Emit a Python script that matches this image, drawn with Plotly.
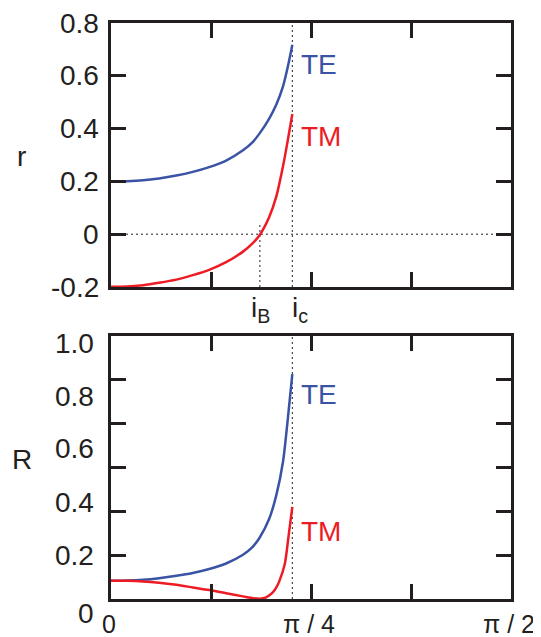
import plotly.graph_objects as go

# ---------------- data (angles in degrees, axis spans 0 .. 90 = pi/2) ----------------
te_r_x = [0, 3.6, 7.2, 10.8, 14.7, 18.4, 22.1, 25.9, 29.7, 31.7, 33.4, 35.6, 37.2, 38.7, 39.8, 40.8]
te_r_y = [0.200, 0.201, 0.204, 0.211, 0.222, 0.236, 0.254, 0.279, 0.318, 0.346, 0.381, 0.438, 0.491, 0.560, 0.636, 0.718]

tm_r_x = [0, 3.6, 7.2, 10.8, 14.7, 18.4, 22.1, 25.9, 29.7, 31.9, 33.5, 35.6, 37.2, 38.7, 39.8, 40.8]
tm_r_y = [-0.199, -0.198, -0.193, -0.184, -0.172, -0.155, -0.135, -0.106, -0.066, -0.034, -0.002, 0.065, 0.143, 0.257, 0.358, 0.455]

te_R_x = [0, 3.6, 7.2, 10.8, 14.7, 18.4, 22.1, 25.9, 29.7, 31.7, 33.4, 35.6, 37.2, 38.7, 39.8, 40.8]
te_R_y = [0.069, 0.070, 0.073, 0.079, 0.088, 0.099, 0.114, 0.135, 0.168, 0.195, 0.232, 0.305, 0.395, 0.522, 0.688, 0.855]

tm_R_x = [0, 3.6, 7.2, 10.8, 14.7, 18.4, 22.1, 25.9, 29.7, 32.0, 33.5, 34.9, 36.4, 37.2, 37.9, 39.1, 40.0, 40.8]
tm_R_y = [0.069, 0.069, 0.067, 0.062, 0.054, 0.044, 0.034, 0.022, 0.010, 0.003, 0.001, 0.006, 0.025, 0.044, 0.069, 0.133, 0.246, 0.350]

i_B = 33.5   # Brewster angle
i_c = 40.8   # critical angle

x_tickvals = [0, 22.5, 45, 67.5, 90]
x_label_vals = [0, 45, 90]
x_label_text = ["0", "π / 4", "π / 2"]
r_tickvals = [-0.2, 0, 0.2, 0.4, 0.6, 0.8]
r_ticktext = ["-0.2", "0", "0.2", "0.4", "0.6", "0.8"]
R_tick_marks = [k / 6 for k in range(7)]
R_ticktext = ["0", "0.2", "0.4", "0.6", "0.8", "1.0"]

# ---------------- style / layout ----------------
BLUE = "#3a53a4"
RED = "#ed1c24"
INK = "#231f20"
FONT = "Liberation Sans, Arial, sans-serif"
FS = 28
FS_X = 25
OFF = 8                      # page body margin of the html page
W, H = 541 - OFF, 637 - OFF
# frame in page pixels: x 111..511, y 23..599
ML, MT = 111 - OFF, 23 - OFF
MR = W - (511 - OFF)
MB = H - (599 - OFF)
PW, PH = W - ML - MR, H - MT - MB


def px_x(px):
    """page pixel x -> paper x"""
    return (px - OFF - ML) / PW


def px_y(py):
    """page pixel y -> paper y"""
    return (H - MB - (py - OFF)) / PH


top_dom = [px_y(287), 1.0]
bot_dom = [0.0, px_y(336)]

fig = go.Figure()
line_kw = dict(mode="lines", line_shape="spline", hoverinfo="skip", showlegend=False)
fig.add_trace(go.Scatter(x=te_r_x, y=te_r_y, line=dict(color=BLUE, width=2.5, smoothing=0.8), xaxis="x", yaxis="y", **line_kw))
fig.add_trace(go.Scatter(x=tm_r_x, y=tm_r_y, line=dict(color=RED, width=2.5, smoothing=0.8), xaxis="x", yaxis="y", **line_kw))
fig.add_trace(go.Scatter(x=te_R_x, y=te_R_y, line=dict(color=BLUE, width=2.5, smoothing=0.8), xaxis="x2", yaxis="y2", **line_kw))
fig.add_trace(go.Scatter(x=tm_R_x, y=tm_R_y, line=dict(color=RED, width=2.5, smoothing=0.8), xaxis="x2", yaxis="y2", **line_kw))

axis_common = dict(
    showline=True, linecolor=INK, linewidth=3, mirror="ticks",
    ticks="inside", ticklen=15, tickwidth=3, tickcolor=INK,
    showgrid=False, zeroline=False, fixedrange=True, automargin=False,
    showticklabels=False,
)

dot = dict(color=INK, width=1, dash="2px,3px")
shapes = [
    dict(type="line", xref="x", yref="y", x0=0, x1=90, y0=0, y1=0, line=dot, layer="below"),
    dict(type="line", xref="x", yref="y", x0=i_B, x1=i_B, y0=-0.2, y1=0.045, line=dot, layer="below"),
    dict(type="line", xref="x", yref="y", x0=i_c, x1=i_c, y0=-0.2, y1=0.8, line=dot, layer="below"),
    dict(type="line", xref="x2", yref="y2", x0=i_c, x1=i_c, y0=0, y1=1, line=dot, layer="below"),
]

txt_font = dict(family=FONT, size=FS, color=INK)
ann = dict(showarrow=False, xanchor="center", yanchor="middle")
annotations = [
    dict(ann, text="r", x=px_x(21), y=px_y(156), xref="paper", yref="paper", font=txt_font),
    dict(ann, text="R", x=px_x(22), y=px_y(459), xref="paper", yref="paper", font=txt_font),
    dict(ann, text="TE", x=42.9, y=0.643, xref="x", yref="y", xanchor="left", xshift=-3, font=dict(txt_font, color=BLUE)),
    dict(ann, text="TM", x=42.9, y=0.371, xref="x", yref="y", xanchor="left", xshift=-3, font=dict(txt_font, color=RED)),
    dict(ann, text="TE", x=42.9, y=0.777, xref="x2", yref="y2", xanchor="left", xshift=-3, font=dict(txt_font, color=BLUE)),
    dict(ann, text="TM", x=42.9, y=0.256, xref="x2", yref="y2", xanchor="left", xshift=-3, font=dict(txt_font, color=RED)),
    dict(ann, text="i<sub>B</sub>", x=i_B, y=px_y(309), xref="x", yref="paper", xshift=1, font=txt_font),
    dict(ann, text="i<sub>c</sub>", x=i_c, y=px_y(309), xref="x", yref="paper", xshift=8, font=txt_font),
]
# r axis tick labels (at their tick values)
for txt, v in zip(r_ticktext, r_tickvals):
    annotations.append(dict(ann, text=txt, x=px_x(101), y=v, xref="paper", yref="y", xanchor="right", font=txt_font))
# R axis tick labels (placed as in the original figure, offset from the tick marks)
R_label_py = [613, 555, 502, 448, 396, 343]
for txt, py in zip(R_ticktext, R_label_py):
    annotations.append(dict(ann, text=txt, x=px_x(96), y=px_y(py), xref="paper", yref="paper", xanchor="right", font=txt_font))
# angle labels
for txt, xv in zip(x_label_text, x_label_vals):
    annotations.append(dict(ann, text=txt, x=xv, y=px_y(624), xref="x2", yref="paper", xshift=-2,
                            font=dict(txt_font, size=FS_X)))

fig.update_layout(
    width=W, height=H,
    margin=dict(l=ML, r=MR, t=MT, b=MB),
    paper_bgcolor="white", plot_bgcolor="white",
    xaxis=dict(axis_common, domain=[0, 1], range=[0, 90], anchor="y", tickvals=x_tickvals),
    yaxis=dict(axis_common, domain=top_dom, range=[-0.2, 0.8], anchor="x", tickvals=r_tickvals),
    xaxis2=dict(axis_common, domain=[0, 1], range=[0, 90], anchor="y2", tickvals=x_tickvals),
    yaxis2=dict(axis_common, domain=bot_dom, range=[0, 1], anchor="x2", tickvals=R_tick_marks),
    shapes=shapes,
    annotations=annotations,
)

fig.write_html("out.html")
